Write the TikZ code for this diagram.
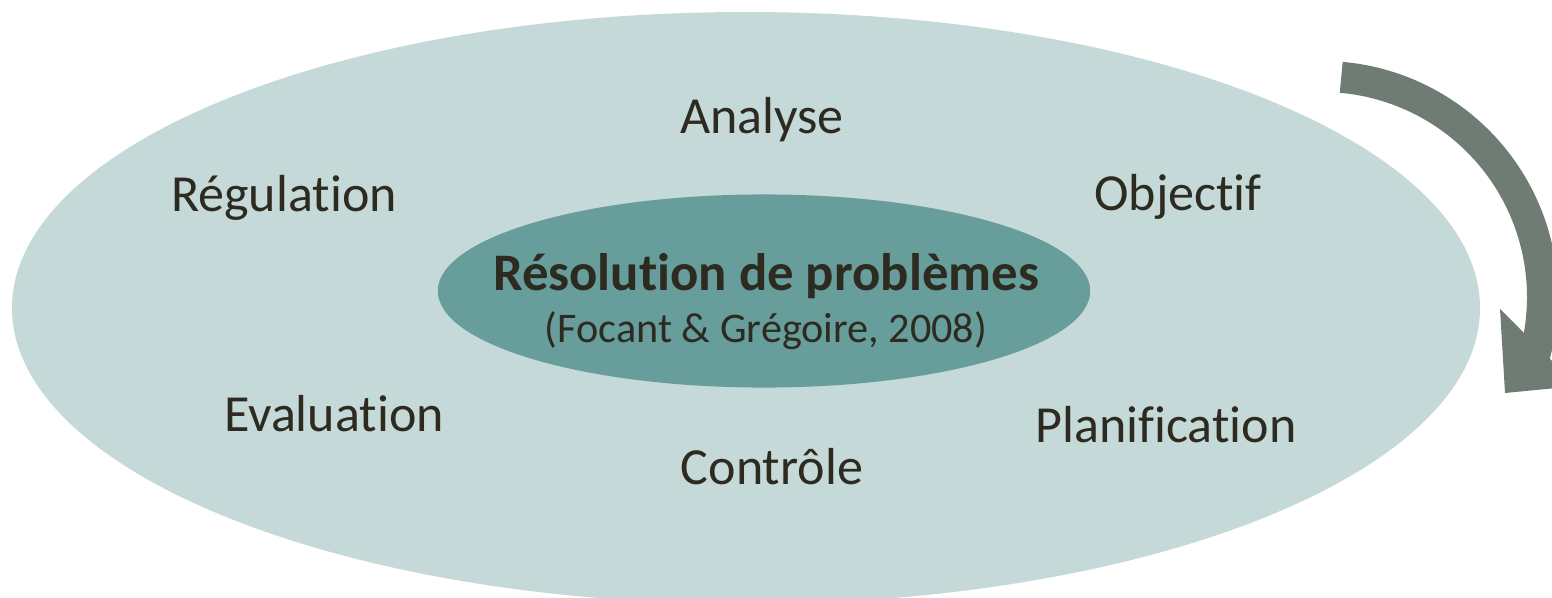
\documentclass[tikz,border=0pt]{standalone}
\usepackage{fontspec}
\setmainfont{Carlito}[Ligatures = NoCommon]
\usetikzlibrary{shapes.geometric}
\definecolor{outer}{RGB}{196, 217, 216}
\definecolor{inner}{RGB}{103, 157, 155}
\definecolor{cycle}{RGB}{110, 124, 116}
\definecolor{ink}{RGB}{45, 42, 32}

\tikzset{
    stage/.style = {font = \fontsize{14.8}{18}\selectfont, text = ink, anchor = base, inner sep = 0pt}
}

\begin{document}
\begin{tikzpicture}[x = 0.01cm, y = -0.01cm]
    \useasboundingbox (0,0) rectangle (1552,597);
    \clip (0,0) rectangle (1552,597);

    \fill[outer] (746,308) ellipse [x radius = 734, y radius = 296];
    \node[ellipse, fill = inner, minimum width = 6.52cm, minimum height = 1.93cm, inner sep = 0pt] (core) at (764,291) {};

    \node[stage, font = \fontsize{15}{18}\selectfont\bfseries] (title) at (766,290) {Résolution de problèmes};
    \node[stage, font = \fontsize{12}{14}\selectfont] (source) at (766,342) {(Focant \& Grégoire, 2008)};

    \node[stage] (analyse) at (762,133) {Analyse};
    \node[stage] (objectif) at (1178,210) {Objectif};
    \node[stage] (planif) at (1166,442) {Planification};
    \node[stage] (controle) at (772,484) {Contrôle};
    \node[stage] (evaluation) at (334,431) {Evaluation};
    \node[stage] (regulation) at (284,211) {Régulation};

    % turning arrow on the right
    \coordinate (turn) at (1322,297);
    \draw[cycle, line width = 0.31cm] ([shift = {(-85:220.5)}]turn) arc [start angle = -85, end angle = 16, radius = 220.5];
    \fill[cycle] (1500,309) -- (1505,393) -- (1577,386) -- cycle;
\end{tikzpicture}
\end{document}
